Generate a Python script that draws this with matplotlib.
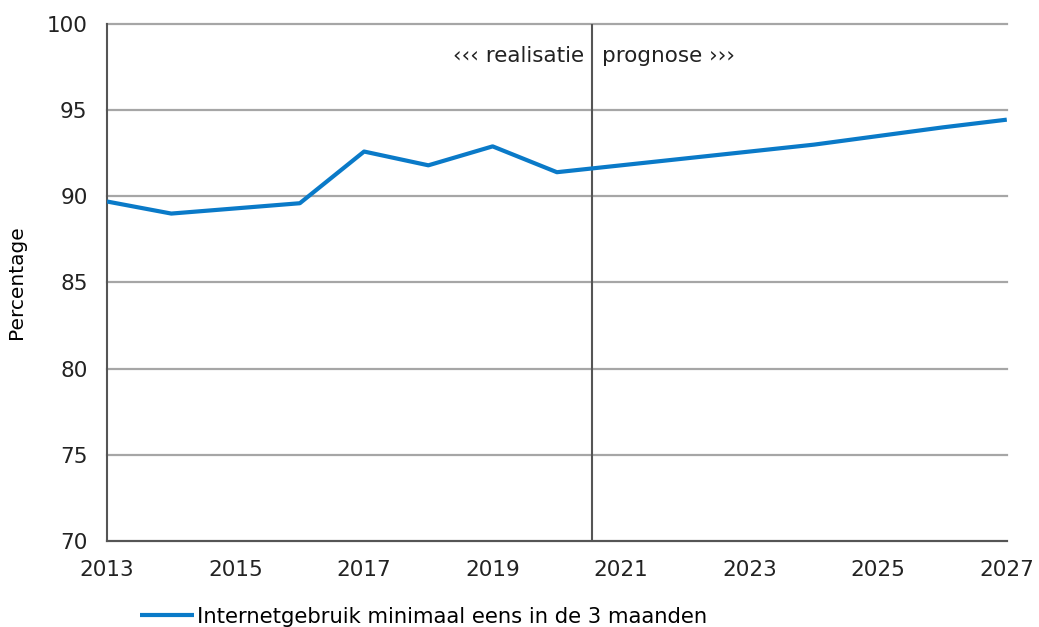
import matplotlib.pyplot as plt

years = [2013, 2014, 2015, 2016, 2017, 2018, 2019, 2020, 2021, 2022, 2023, 2024, 2025, 2026, 2027]
values = [89.7, 89.0, 89.3, 89.6, 92.6, 91.8, 92.9, 91.4, 91.8, 92.2, 92.6, 93.0, 93.5, 94.0, 94.45]
split_year = 2020.55
series_label = "Internetgebruik minimaal eens in de 3 maanden"

plt.rcParams['font.family'] = ['DejaVu Sans']
fig = plt.figure(figsize=(10.39, 6.27), dpi=100)
ax = fig.add_axes([0.103, 0.1372, 0.866, 0.8245])

line, = ax.plot(years, values, color='#0A7AC8', lw=3.0, solid_capstyle='butt',
                label=series_label, zorder=3)
ax.axvline(split_year, color='#555555', lw=1.5, zorder=2)

ax.set_xlim(2013, 2027)
ax.set_ylim(70, 100)
ax.set_xticks(range(2013, 2028, 2))
ax.set_yticks(range(70, 101, 5))
ax.yaxis.grid(True, color='#A6A6A6', lw=1.6)
for gl in ax.get_ygridlines():
    gl.set_clip_on(False)
ax.set_axisbelow(True)
ax.tick_params(length=0, labelsize=15.5, colors='#222222', pad=14)
ax.tick_params(axis='x', pad=14)
for s in ['top', 'right']:
    ax.spines[s].set_visible(False)
for s in ['left', 'bottom']:
    ax.spines[s].set_color('#555555')
    ax.spines[s].set_linewidth(1.5)
ax.set_ylabel("Percentage", fontsize=14.5)
ax.yaxis.set_label_coords(-0.09, 0.5)

ax.text(split_year - 0.13, 98.15, "‹‹‹ realisatie", ha='right', va='center', fontsize=15.5, color='#222222')
ax.text(split_year + 0.15, 98.15, "prognose ›››", ha='left', va='center', fontsize=15.5, color='#222222')

fig.legend(handles=[line], loc='lower left', bbox_to_anchor=(0.116, -0.03), frameon=False,
           fontsize=15.2, handlelength=2.6, handletextpad=0.1)

fig.savefig("out.png", dpi=100)
